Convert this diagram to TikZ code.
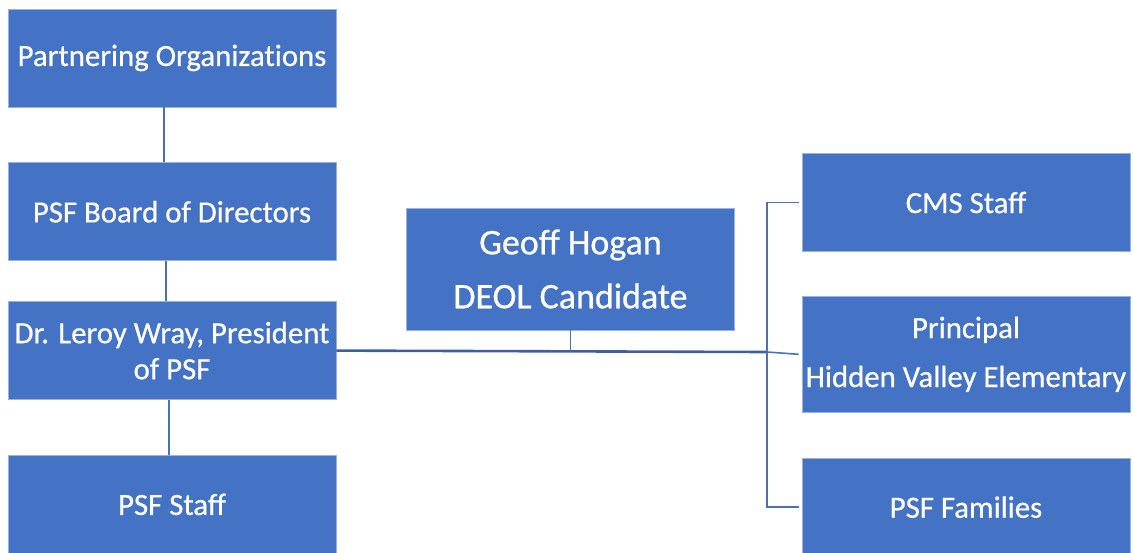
\documentclass[tikz,border=0pt]{standalone}
\usepackage{fontspec}
\setmainfont{Carlito}
\newfontfamily\boxfont{Carlito}[FakeBold=0.6]
\usepackage{tikz}
\usetikzlibrary{calc,positioning}
\definecolor{boxblue}{HTML}{4472C4}
\definecolor{lineblue}{HTML}{4A70BC}
\definecolor{mainblue}{HTML}{3A5FA8}
\tikzset{
orgbox/.style={rectangle,fill=boxblue,draw=boxblue!55!white,line width=0.8pt,text=white,
  minimum width=328pt,minimum height=98pt,inner sep=1pt,align=center,
  font=\boxfont\fontsize{30.8}{36}\selectfont},
link/.style={draw=lineblue,line width=1.6pt},
mainlink/.style={draw=mainblue,line width=2.6pt}
}
\begin{document}
\begin{tikzpicture}[x=1pt,y=-1pt]
\useasboundingbox (0,0) rectangle (1133,552);
\node [orgbox] (po) at (172,58) {Partnering Organizat\kern0pt ions};
\node [orgbox] (bod) [below=55pt of po] {PSF Board of Directors};
\node [orgbox] (pres) [below=40pt of bod] {Dr. Leroy Wray, President\\of PSF};
\node [orgbox] (staff) [below=55pt of pres] {PSF Staff};
\node [orgbox,minimum height=122pt,font=\boxfont\fontsize{36}{54}\selectfont] (geoff) at (570.5,269) {Geoff Hogan\\DEOL Candidate};
\node [orgbox] (cms) at (966,202.5) {CMS Staff};
\node [orgbox,minimum height=116pt] (prin) [below=44pt of cms] {Principal\\[13pt]Hidden Valley Elementary};
\node [orgbox] (fam) [below=45pt of prin] {PSF Families};
\coordinate (bus) at (767,352);
\draw [link] ([xshift=-8pt]po.south) -- ([xshift=-8pt]bod.north);
\draw [link] ([xshift=-6pt]bod.south) -- ([xshift=-6pt]pres.north);
\draw [link] ([xshift=-3pt]pres.south) -- ([xshift=-3pt]staff.north);
\draw [mainlink] (pres.east) -- (bus);
\draw [link] (geoff.south) -- (geoff.south |- bus);
\draw [link] ([xshift=-3pt]cms.west) -| (bus) |- ([xshift=-3pt]fam.west);
\draw [link] (bus) -- ([xshift=-3pt]prin.west);
\end{tikzpicture}
\end{document}
